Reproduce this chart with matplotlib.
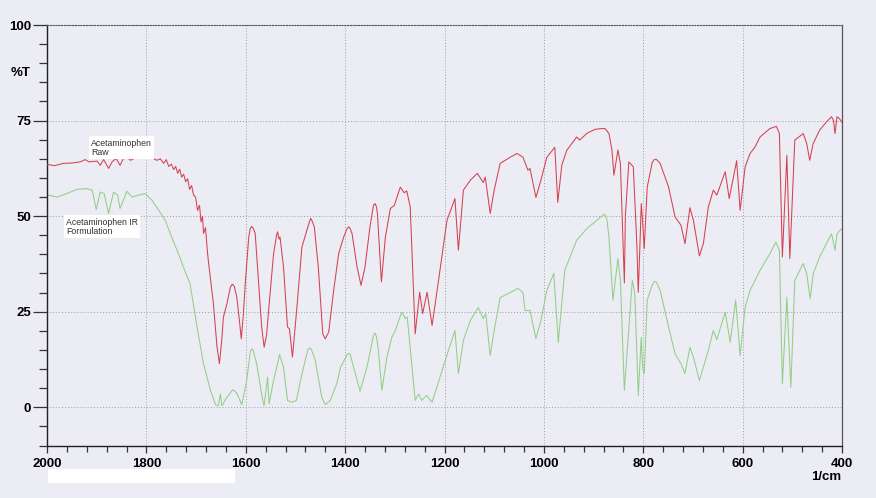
import numpy as np
import matplotlib.pyplot as plt
from matplotlib.ticker import MultipleLocator
from matplotlib.patches import Rectangle

plt.rcParams['font.family'] = ['Liberation Sans', 'DejaVu Sans']

# Acetaminophen Raw (red trace): (wavenumber 1/cm, %T)
raw_pts = [
    (2000, 63.4), (1997, 63.5), (1985, 63.2), (1967, 63.8), (1950, 63.9), (1933, 64.2),
    (1923, 64.8), (1916, 64.2), (1899, 64.4), (1893, 63.3), (1886, 64.8), (1876, 62.5),
    (1869, 64.2), (1861, 65.1), (1853, 63.3), (1843, 65.9), (1832, 64.6), (1819, 65.5),
    (1806, 65.1), (1792, 65.5), (1779, 64.6), (1772, 65.0), (1765, 63.8), (1760, 64.8),
    (1755, 63.0), (1750, 63.6), (1745, 62.2), (1741, 63.0), (1737, 61.2), (1733, 62.3),
    (1729, 60.2), (1725, 61.0), (1721, 59.0), (1717, 59.8), (1713, 57.0), (1709, 58.0),
    (1705, 55.5), (1701, 55.0), (1697, 51.5), (1693, 52.8), (1690, 48.5), (1687, 50.0),
    (1685, 45.5), (1681, 47.0), (1677, 40.5), (1675, 38.0), (1665, 27.0), (1658, 16.0),
    (1653, 11.4), (1648, 18.0), (1645, 23.6), (1638, 27.0), (1631, 31.4), (1627, 32.2),
    (1623, 31.6), (1618, 28.8), (1613, 23.0), (1609, 17.9), (1605, 24.0), (1601, 32.3),
    (1594, 44.5), (1591, 46.8), (1588, 47.3), (1585, 46.8), (1581, 45.5), (1574, 32.3),
    (1568, 21.0), (1563, 15.7), (1558, 19.0), (1554, 25.3), (1544, 40.2), (1538, 45.0),
    (1536, 45.9), (1533, 44.0), (1531, 44.5), (1524, 36.7), (1516, 21.0), (1512, 20.5),
    (1506, 13.1), (1497, 26.2), (1487, 41.9), (1474, 47.6), (1471, 48.8), (1469, 49.4),
    (1466, 48.6), (1462, 47.2), (1454, 36.7), (1445, 19.2), (1440, 17.9), (1433, 19.7),
    (1423, 30.6), (1413, 40.2), (1403, 44.5), (1397, 46.5), (1393, 47.2), (1390, 46.8),
    (1386, 45.4), (1376, 36.7), (1368, 31.9), (1360, 36.7), (1350, 47.2), (1343, 52.8),
    (1340, 53.3), (1337, 52.5), (1335, 50.7), (1327, 32.8), (1319, 44.5), (1309, 52.0),
    (1301, 52.8), (1289, 57.6), (1281, 56.1), (1276, 56.6), (1269, 52.4), (1259, 19.2),
    (1250, 30.1), (1244, 24.5), (1235, 30.1), (1225, 21.4), (1212, 33.2), (1195, 48.9),
    (1179, 54.6), (1172, 41.1), (1162, 56.8), (1148, 59.4), (1134, 61.2), (1122, 58.8),
    (1118, 60.2), (1108, 50.7), (1100, 56.8), (1088, 63.8), (1068, 65.4), (1054, 66.4),
    (1042, 65.4), (1032, 62.0), (1028, 62.5), (1016, 54.9), (1006, 59.4), (994, 65.4),
    (978, 68.0), (972, 53.6), (964, 63.3), (954, 67.2), (934, 70.7), (928, 69.9),
    (913, 71.7), (897, 72.7), (885, 72.9), (877, 72.9), (869, 71.6), (863, 67.3),
    (859, 60.7), (851, 67.3), (846, 63.8), (838, 32.5), (836, 50.0), (829, 64.2),
    (820, 62.9), (813, 42.8), (810, 30.1), (806, 45.0), (804, 53.3), (801, 48.0),
    (798, 41.5), (792, 57.6), (782, 64.0), (778, 64.8), (774, 64.9), (766, 63.8),
    (749, 57.6), (736, 49.8), (724, 47.6), (716, 42.8), (706, 52.2), (699, 48.9),
    (687, 39.6), (679, 42.8), (669, 52.4), (659, 56.8), (652, 55.5), (635, 61.6),
    (627, 54.6), (612, 64.5), (605, 51.5), (595, 62.9), (585, 66.4), (575, 68.1),
    (565, 70.7), (545, 72.9), (536, 73.3), (532, 73.5), (526, 71.6), (520, 39.3),
    (511, 65.9), (505, 38.9), (495, 69.9), (478, 71.6), (471, 69.0), (465, 64.6),
    (458, 69.0), (445, 72.5), (431, 74.7), (425, 75.5), (421, 76.0), (417, 75.0),
    (414, 71.6), (410, 76.0), (405, 75.5), (401, 74.7), (400, 74.5),
]

# Acetaminophen IR Formulation (green trace)
form_pts = [
    (2000, 55.3), (1997, 55.5), (1980, 55.0), (1960, 55.9), (1940, 57.0), (1920, 57.2),
    (1909, 56.8), (1901, 51.7), (1893, 56.3), (1885, 55.9), (1876, 50.7), (1866, 56.3),
    (1858, 55.5), (1853, 52.0), (1839, 56.5), (1829, 55.0), (1816, 55.5), (1802, 55.9),
    (1789, 54.2), (1775, 51.5), (1762, 48.9), (1749, 44.5), (1735, 40.0), (1725, 36.5),
    (1712, 32.3), (1698, 21.0), (1685, 11.4), (1671, 4.4), (1661, 0.7), (1655, 0.4),
    (1651, 3.5), (1648, 0.4), (1638, 2.6), (1626, 4.6), (1618, 3.7), (1608, 0.7),
    (1598, 7.0), (1591, 14.5), (1588, 15.3), (1585, 14.8), (1578, 11.4), (1567, 2.6),
    (1563, 0.4), (1556, 7.9), (1553, 0.9), (1544, 7.0), (1536, 11.4), (1532, 13.8),
    (1524, 10.5), (1516, 1.8), (1507, 1.3), (1498, 1.8), (1487, 8.7), (1475, 15.0),
    (1472, 15.5), (1468, 15.2), (1460, 12.2), (1447, 2.6), (1440, 0.7), (1430, 1.8),
    (1417, 6.1), (1409, 10.5), (1396, 13.8), (1393, 14.1), (1390, 13.9), (1383, 10.5),
    (1370, 4.2), (1356, 10.5), (1343, 18.8), (1340, 19.4), (1337, 18.5), (1333, 14.9),
    (1326, 4.4), (1316, 13.1), (1306, 18.3), (1299, 20.1), (1286, 24.9), (1279, 23.2),
    (1275, 23.6), (1266, 11.4), (1259, 1.8), (1252, 3.5), (1246, 1.8), (1236, 3.1),
    (1225, 1.3), (1209, 7.9), (1192, 14.9), (1179, 20.1), (1172, 8.8), (1162, 17.5),
    (1148, 22.7), (1132, 26.1), (1122, 23.2), (1117, 24.5), (1108, 13.5), (1100, 20.1),
    (1088, 28.7), (1068, 30.0), (1052, 31.1), (1042, 30.0), (1038, 25.3), (1028, 25.3),
    (1016, 18.0), (1006, 22.7), (994, 30.6), (980, 35.0), (971, 16.9), (958, 35.8),
    (934, 43.7), (913, 46.8), (897, 48.5), (882, 50.2), (877, 50.5), (873, 49.0),
    (869, 44.5), (861, 28.0), (851, 38.9), (846, 33.2), (838, 4.4), (822, 33.2),
    (817, 29.7), (810, 3.1), (804, 18.3), (801, 10.0), (798, 8.8), (792, 28.0),
    (782, 32.0), (778, 32.9), (774, 32.8), (766, 30.6), (749, 21.0), (736, 14.0),
    (724, 11.4), (716, 8.8), (706, 15.7), (699, 13.1), (687, 7.0), (669, 14.9),
    (659, 20.1), (652, 17.7), (635, 24.9), (625, 17.0), (614, 28.1), (605, 13.5),
    (595, 26.2), (585, 30.6), (575, 33.2), (565, 35.8), (545, 40.2), (533, 43.2),
    (526, 41.0), (520, 6.1), (511, 28.8), (503, 5.2), (495, 33.2), (478, 37.6),
    (471, 34.9), (464, 28.4), (458, 34.9), (445, 39.3), (428, 43.7), (421, 45.4),
    (414, 41.1), (410, 45.4), (401, 46.7), (400, 46.5),
]

raw_wn, raw_t = zip(*raw_pts)
form_wn, form_t = zip(*form_pts)

bg = '#ececf4'
fig = plt.figure(figsize=(8.76, 4.98), dpi=100, facecolor=bg)
ax = fig.add_axes([47 / 876, 1 - 445.5 / 498, 795 / 876, 420.5 / 498])
ax.set_facecolor(bg)

ax.plot(raw_wn, raw_t, color='#d6404f', lw=0.75, zorder=3)
ax.plot(form_wn, form_t, color='#92cf86', lw=0.75, zorder=2)

ax.set_xlim(2000, 400)
ax.set_ylim(-10, 100)
ax.xaxis.set_major_locator(MultipleLocator(200))
ax.xaxis.set_minor_locator(MultipleLocator(40))
ax.yaxis.set_major_locator(MultipleLocator(25))
ax.yaxis.set_minor_locator(MultipleLocator(5))

ax.grid(which='major', linestyle=(0, (1, 2)), color='#9c9ca4', lw=0.7, zorder=1)

for s in ['left', 'bottom']:
    ax.spines[s].set_color('#222222')
    ax.spines[s].set_linewidth(1.0)
ax.spines['top'].set_linestyle((0, (1, 1.5)))
ax.spines['top'].set_color('#555555')
ax.spines['top'].set_linewidth(0.8)
ax.spines['right'].set_color('#555555')
ax.spines['right'].set_linewidth(0.9)

ax.tick_params(axis='y', which='major', direction='out', length=10, width=0.9, pad=1.5,
               color='#333333', labelsize=9.5)
ax.tick_params(axis='y', which='minor', direction='out', length=5.5, width=0.9, color='#333333')
ax.tick_params(axis='x', which='major', direction='out', length=5, width=0.9, pad=4,
               color='#333333', labelsize=9.5)
ax.tick_params(axis='x', which='minor', direction='out', length=4, width=0.9, color='#333333')
for lab in ax.get_xticklabels() + ax.get_yticklabels():
    lab.set_fontweight('bold')

fig.text(21 / 876, 1 - 73 / 498, '%T', ha='center', va='center', fontsize=9.5, fontweight='bold')
fig.text(841 / 876, 1 - 477 / 498, '1/cm', ha='right', va='center', fontsize=9.5, fontweight='bold')

box = dict(boxstyle='square,pad=0.25', facecolor='white', edgecolor='none')
ax.text(1911, 70.3, 'Acetaminophen\nRaw', ha='left', va='top', fontsize=6.3,
        color='#333333', linespacing=1.0, bbox=box, zorder=4)
ax.text(1962, 49.6, 'Acetaminophen IR\nFormulation', ha='left', va='top', fontsize=6.3,
        color='#333333', linespacing=1.0, bbox=box, zorder=4)

# white strip under the axis, as in the scan
fig.patches.append(Rectangle((48 / 876, 1 - 483 / 498), 187 / 876, 14 / 498,
                             transform=fig.transFigure, facecolor='white', edgecolor='none'))

fig.savefig('out.png', dpi=100, facecolor=bg)
